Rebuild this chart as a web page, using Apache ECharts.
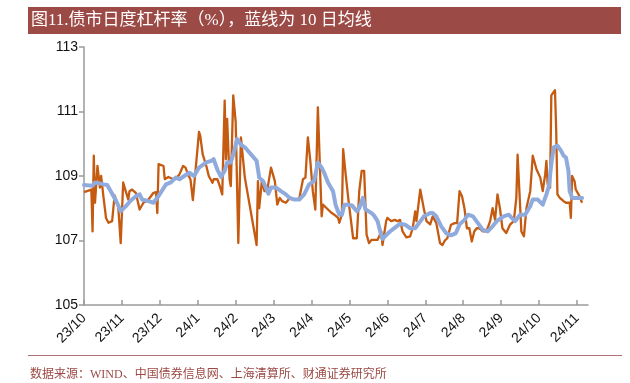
<!DOCTYPE html>
<html><head><meta charset="utf-8">
<script src="https://cdn.jsdelivr.net/npm/echarts@6/dist/echarts.min.js"></script>
<style>html,body{margin:0;padding:0;background:#fff}#c{width:630px;height:383px}</style>
</head><body><div id="c"></div>
<script>
const monthLabels = ['23/10','23/11','23/12','24/1','24/2','24/3','24/4','24/5','24/6','24/7','24/8','24/9','24/10','24/11'];
const yTicks = [105, 107, 109, 111, 113];

const leverageDates = [
'2023-10-01','2023-10-07','2023-10-08','2023-10-09','2023-10-10','2023-10-12','2023-10-14','2023-10-15','2023-10-17','2023-10-19','2023-10-21','2023-10-24','2023-10-26','2023-10-29','2023-10-31',
'2023-11-02','2023-11-04','2023-11-06','2023-11-07','2023-11-09','2023-11-12','2023-11-15','2023-11-18','2023-11-22','2023-11-26','2023-11-28','2023-11-29','2023-11-30',
'2023-12-04','2023-12-05','2023-12-08','2023-12-12','2023-12-14','2023-12-17','2023-12-20','2023-12-22','2023-12-24','2023-12-26','2023-12-28',
'2024-01-02','2024-01-03','2024-01-05','2024-01-08','2024-01-10','2024-01-13','2024-01-14','2024-01-17','2024-01-19','2024-01-21','2024-01-23','2024-01-24','2024-01-25','2024-01-27','2024-01-28','2024-01-30',
'2024-02-01','2024-02-03','2024-02-05','2024-02-08','2024-02-17','2024-02-18','2024-02-19','2024-02-21','2024-02-23','2024-02-25','2024-02-28',
'2024-03-02','2024-03-04','2024-03-06','2024-03-08','2024-03-11','2024-03-14','2024-03-18','2024-03-22','2024-03-25','2024-03-27','2024-03-29','2024-03-31',
'2024-04-02','2024-04-04','2024-04-06','2024-04-09','2024-04-10','2024-04-13','2024-04-17','2024-04-19','2024-04-22','2024-04-23','2024-04-25','2024-04-26','2024-04-28','2024-04-30',
'2024-05-04','2024-05-07','2024-05-09','2024-05-11','2024-05-13','2024-05-15','2024-05-17','2024-05-19','2024-05-21','2024-05-24','2024-05-27','2024-05-28','2024-05-31',
'2024-06-01','2024-06-04','2024-06-07','2024-06-09','2024-06-11','2024-06-13','2024-06-16','2024-06-19','2024-06-21','2024-06-23','2024-06-24','2024-06-27','2024-06-30',
'2024-07-02','2024-07-05','2024-07-07','2024-07-10','2024-07-13','2024-07-15','2024-07-17','2024-07-19','2024-07-22','2024-07-25','2024-07-27','2024-07-29','2024-07-31',
'2024-08-02','2024-08-04','2024-08-06','2024-08-08','2024-08-10','2024-08-12','2024-08-14','2024-08-17','2024-08-20','2024-08-23','2024-08-25','2024-08-27','2024-08-29','2024-08-31',
'2024-09-02','2024-09-05','2024-09-08','2024-09-11','2024-09-13','2024-09-14','2024-09-17','2024-09-19','2024-09-21','2024-09-24','2024-09-26','2024-09-29',
'2024-10-02','2024-10-04','2024-10-06','2024-10-07','2024-10-08','2024-10-10','2024-10-11','2024-10-12','2024-10-14','2024-10-15','2024-10-16','2024-10-18','2024-10-21','2024-10-23','2024-10-26','2024-10-27','2024-10-28','2024-10-30','2024-10-31',
'2024-11-03','2024-11-05'
];
const leverageValues = [
108.50,108.58,107.28,109.63,108.17,109.31,108.64,109.00,108.32,107.70,107.55,107.60,108.40,108.05,106.92,
108.80,108.53,108.27,108.53,108.58,108.48,107.96,108.17,108.27,108.48,108.50,107.85,109.37,
109.31,108.90,108.97,108.90,108.92,109.05,109.31,109.26,109.05,108.90,108.25,
110.37,110.25,109.68,109.31,109.00,108.79,108.90,108.90,108.69,108.43,111.34,109.52,110.77,108.90,108.69,111.50,
110.67,106.92,110.20,108.95,106.86,108.84,108.00,108.84,108.53,108.53,109.26,
108.84,108.11,108.32,108.22,108.17,108.30,108.27,108.30,108.90,108.95,110.20,109.47,
108.53,107.96,111.13,107.75,108.11,108.00,107.85,107.80,107.70,107.55,107.80,109.83,109.05,108.32,
107.07,107.07,108.53,109.16,109.16,107.18,106.92,107.02,107.02,107.02,107.28,106.86,107.60,
107.70,107.60,107.64,107.60,107.64,107.28,107.10,107.13,107.38,107.90,107.60,108.58,107.95,
107.60,107.50,107.75,107.54,106.92,106.86,107.00,107.07,107.49,107.54,107.54,108.53,108.37,
108.00,107.38,107.38,106.97,107.28,107.38,107.38,107.28,107.28,107.60,108.00,107.64,108.43,108.00,
107.38,107.23,107.49,107.60,108.32,109.66,107.28,107.13,108.00,108.53,109.63,109.20,
108.95,108.53,109.05,109.47,108.74,108.64,111.50,111.50,111.66,110.40,108.43,108.32,108.22,108.17,108.17,107.70,109.00,108.84,108.58,
108.37,108.17
];

const maDates = [
'2023-10-01','2023-10-08','2023-10-10','2023-10-13','2023-10-17','2023-10-20','2023-10-24','2023-10-28','2023-10-31',
'2023-11-04','2023-11-08','2023-11-12','2023-11-15','2023-11-17','2023-11-22','2023-11-26','2023-11-30',
'2023-12-06','2023-12-10','2023-12-14','2023-12-17','2023-12-21','2023-12-25','2023-12-29',
'2024-01-02','2024-01-08','2024-01-12','2024-01-14','2024-01-17','2024-01-20','2024-01-23','2024-01-25','2024-01-28','2024-01-31',
'2024-02-02','2024-02-05','2024-02-08','2024-02-17','2024-02-19','2024-02-22','2024-02-24','2024-02-26','2024-02-28',
'2024-03-03','2024-03-07','2024-03-11','2024-03-14','2024-03-18','2024-03-22','2024-03-26','2024-03-30',
'2024-04-03','2024-04-06','2024-04-09','2024-04-11','2024-04-14','2024-04-18','2024-04-20','2024-04-23','2024-04-25','2024-04-27','2024-04-30',
'2024-05-03','2024-05-07','2024-05-09','2024-05-12','2024-05-14','2024-05-19','2024-05-21','2024-05-24','2024-05-26','2024-05-28','2024-05-30',
'2024-06-03','2024-06-07','2024-06-11','2024-06-15','2024-06-19','2024-06-23','2024-06-26','2024-06-30',
'2024-07-05','2024-07-07','2024-07-10','2024-07-14','2024-07-18','2024-07-22','2024-07-26','2024-07-29',
'2024-08-02','2024-08-05','2024-08-09','2024-08-13','2024-08-17','2024-08-21','2024-08-25','2024-08-29',
'2024-09-03','2024-09-07','2024-09-09','2024-09-12','2024-09-16','2024-09-20','2024-09-24','2024-09-26','2024-09-30',
'2024-10-04','2024-10-07','2024-10-09','2024-10-11','2024-10-13','2024-10-16','2024-10-19','2024-10-21','2024-10-23','2024-10-25','2024-10-26','2024-10-28','2024-10-31',
'2024-11-05'
];
const maValues = [
108.72,108.70,108.80,108.78,108.74,108.72,108.45,108.17,107.91,
108.06,108.24,108.37,108.43,108.27,108.22,108.17,108.38,
108.74,108.80,108.95,108.90,109.00,109.10,109.00,
109.26,109.42,109.47,109.52,109.20,108.97,109.16,109.42,109.42,109.80,
110.15,109.97,109.89,109.47,108.95,108.84,108.64,108.45,108.64,
108.64,108.53,108.43,108.32,108.27,108.27,108.43,108.74,
108.84,109.42,109.26,109.10,108.80,108.53,108.11,107.80,107.80,108.11,108.11,
108.09,107.91,108.00,108.32,107.97,107.85,107.78,107.60,107.30,107.05,107.13,
107.28,107.40,107.52,107.49,107.38,107.38,107.54,107.75,
107.85,107.85,107.75,107.44,107.23,107.16,107.23,107.50,
107.64,107.80,107.75,107.54,107.33,107.28,107.44,107.62,
107.75,107.80,107.72,107.60,107.80,107.80,108.06,108.27,108.27,
108.11,108.43,108.69,109.37,109.89,109.94,109.78,109.63,109.57,109.16,108.53,108.32,108.32,
108.32
];

// position of a date on the month axis (0 = start of 23/10)
function monthPos(s) {
  const p = s.split('-').map(Number);
  const idx = (p[0] - 2023) * 12 + (p[1] - 10);
  const dim = new Date(p[0], p[1], 0).getDate();
  return idx + (p[2] - 1) / dim;
}
const leverageData = leverageDates.map((d, i) => [monthPos(d), leverageValues[i]]);
const maData = maDates.map((d, i) => [monthPos(d), maValues[i]]);
const monthTicks = monthLabels.map((_, i) => i);

const chart = echarts.init(document.getElementById('c'), null, {renderer: 'canvas'});
const latin = 'Liberation Sans, Arial, sans-serif';
chart.setOption({
  animation: false,
  backgroundColor: '#fff',
  grid: {left: 84, right: 42, top: 47, bottom: 78, containLabel: false},
  xAxis: {
    type: 'value', min: 0, max: 13.29,
    axisLine: {show: true, lineStyle: {color: '#9a9a9a', width: 1.5}},
    axisTick: {show: true, inside: true, length: 5, customValues: monthTicks, lineStyle: {color: '#9a9a9a', width: 1.5}},
    axisLabel: {
      customValues: monthTicks, rotate: 45, margin: 11,
      fontSize: 14, fontFamily: latin, color: '#111',
      formatter: v => monthLabels[Math.round(v)] || ''
    },
    splitLine: {show: false}
  },
  yAxis: {
    type: 'value', min: 105, max: 113, interval: 2,
    axisLine: {show: true, lineStyle: {color: '#9a9a9a', width: 1.5}},
    axisTick: {show: true, inside: false, length: 5, lineStyle: {color: '#9a9a9a', width: 1.5}},
    axisLabel: {fontSize: 14, fontFamily: latin, color: '#111', margin: 6,
      formatter: v => yTicks.includes(v) ? String(v) : ''},
    splitLine: {show: false}
  },
  series: [
    {type: 'line', name: '杠杆率', data: leverageData, showSymbol: false, symbol: 'none',
     lineStyle: {color: '#C55A11', width: 2.3, join: 'round'}, z: 2},
    {type: 'line', name: '10日均线', data: maData, showSymbol: false, symbol: 'none',
     lineStyle: {color: '#8FAADC', width: 4, join: 'round', cap: 'round'}, z: 3}
  ],
  graphic: [
    {type: 'rect', shape: {x: 28, y: 7, width: 593, height: 27}, style: {fill: '#9B4A45'}, silent: true},
    {type: 'text', x: 31, y: 21, style: {text: '图11.债市日度杠杆率（%），蓝线为 10 日均线', fill: '#fff',
      font: '17px "Liberation Serif", "Noto Sans CJK SC", serif', textVerticalAlign: 'middle', verticalAlign: 'middle'}},
    {type: 'rect', shape: {x: 28, y: 355, width: 594, height: 1}, style: {fill: '#B07070'}, silent: true},
    {type: 'text', x: 30, y: 375, style: {text: '数据来源：WIND、中国债券信息网、上海清算所、财通证券研究所', fill: '#9B4A45',
      font: '12px "Liberation Serif", "Noto Sans CJK SC", serif', textVerticalAlign: 'middle', verticalAlign: 'middle'}}
  ]
});
</script></body></html>
